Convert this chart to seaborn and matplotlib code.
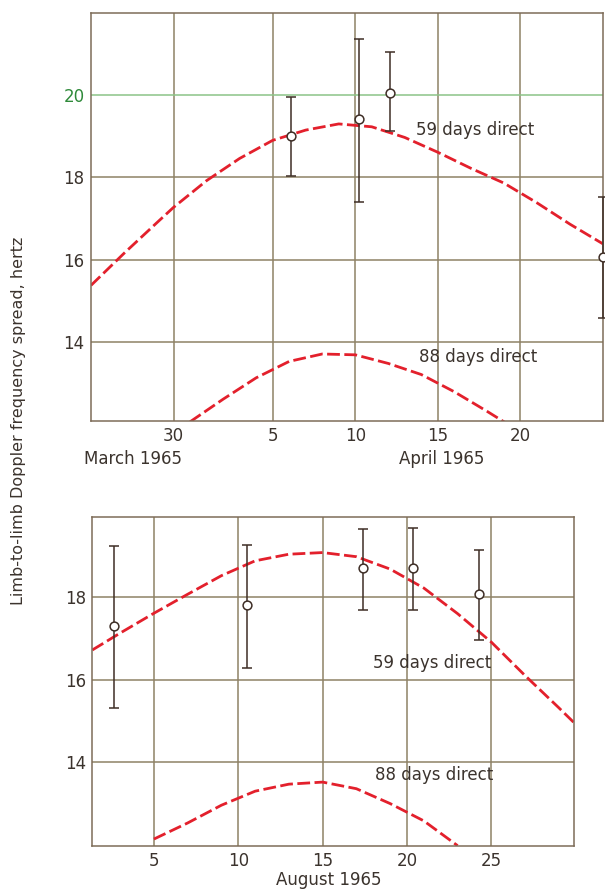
import matplotlib
matplotlib.use('Agg')
import matplotlib.pyplot as plt
import pandas as pd
import seaborn as sns

# ---- April 1965 panel (x = day counted from March 31, so March 30 -> -1) ----
apr_days_59 = [-6, -4, -2, -1, 1, 3, 5, 7, 9, 11, 13, 15, 17, 19, 21, 23, 25]
apr_vals_59 = [15.37, 16.15, 16.90, 17.27, 17.92, 18.46, 18.90, 19.15, 19.30,
               19.23, 18.97, 18.61, 18.22, 17.86, 17.38, 16.86, 16.38]
apr_days_88 = [0, 2, 4, 6, 8, 10, 12, 14, 16, 18, 19, 20]
apr_vals_88 = [12.05, 12.60, 13.12, 13.52, 13.70, 13.68, 13.47, 13.20, 12.78,
               12.30, 12.05, 11.75]
apr_obs_day = [6.1, 10.2, 12.1, 25.0]
apr_obs_val = [19.0, 19.42, 20.05, 16.07]
apr_obs_lo = [18.03, 17.41, 19.12, 14.57]
apr_obs_hi = [19.95, 21.37, 21.06, 17.52]
apr_tick_pos = [-1, 5, 10, 15, 20]
apr_tick_lab = ['30', '5', '10', '15', '20']

# ---- August 1965 panel (x = day of August) ----
aug_days_59 = [1.35, 3, 5, 7, 9, 11, 13, 15, 17, 19, 21, 23, 25, 27, 29, 29.9]
aug_vals_59 = [16.72, 17.13, 17.61, 18.07, 18.52, 18.88, 19.04, 19.08, 18.98,
               18.68, 18.22, 17.60, 16.91, 16.10, 15.32, 14.96]
aug_days_88 = [5, 7, 9, 11, 13, 15, 17, 19, 21, 23]
aug_vals_88 = [12.14, 12.53, 12.96, 13.30, 13.47, 13.52, 13.36, 13.00, 12.58, 11.98]
aug_obs_day = [2.65, 10.5, 17.4, 20.33, 24.25]
aug_obs_val = [17.31, 17.81, 18.71, 18.71, 18.08]
aug_obs_lo = [15.31, 16.28, 17.69, 17.69, 16.96]
aug_obs_hi = [19.25, 19.27, 19.65, 19.67, 19.13]
aug_tick_pos = [5, 10, 15, 20, 25]
aug_tick_lab = ['5', '10', '15', '20', '25']

sns.set_theme(style='white')
plt.rcParams['font.family'] = ['DejaVu Sans']

CURVE = '#e3202c'
GRID = '#8e8266'
TEXT = '#3b332d'
BAR = '#3e2e26'
DASH = (0, (4.6, 1.6))

fig = plt.figure(figsize=(6.05, 8.9), dpi=100)
ax1 = fig.add_axes([0.1504, 0.527, 0.8463, 0.4584])
ax2 = fig.add_axes([0.1526, 0.0498, 0.7962, 0.3697])


def draw_panel(ax, d59, v59, d88, v88, od, ov, olo, ohi, ticks, labels,
               xlim, ylim, yticks):
    ax.set_xlim(*xlim)
    ax.set_ylim(*ylim)
    for t in ticks:
        ax.axvline(t, color=GRID, lw=1.1, zorder=0)
    for t in yticks:
        c = '#8cc487' if t == 20 else GRID
        ax.axhline(t, color=c, lw=1.1, zorder=0)
    df59 = pd.DataFrame({'day': d59, 'hz': v59})
    df88 = pd.DataFrame({'day': d88, 'hz': v88})
    sns.lineplot(data=df59, x='day', y='hz', ax=ax, color=CURVE, lw=2.0,
                 linestyle=DASH, zorder=2)
    sns.lineplot(data=df88, x='day', y='hz', ax=ax, color=CURVE, lw=2.0,
                 linestyle=DASH, zorder=2)
    lo = [v - l for v, l in zip(ov, olo)]
    hi = [h - v for v, h in zip(ov, ohi)]
    ax.errorbar(od, ov, yerr=[lo, hi], fmt='none', ecolor=BAR, elinewidth=1.1,
                capsize=3.6, capthick=1.1, zorder=3, clip_on=False)
    sns.scatterplot(x=od, y=ov, ax=ax, marker='o', s=40, color='white',
                    edgecolor=BAR, linewidth=1.1, zorder=4, clip_on=False)
    ax.set_xticks(ticks)
    ax.set_xticklabels(labels)
    ax.set_yticks(yticks)
    ax.set_yticklabels([str(t) for t in yticks])
    ax.tick_params(length=0, pad=4.5, labelsize=12, labelcolor=TEXT)
    for s in ax.spines.values():
        s.set_color('#7d6c58')
        s.set_linewidth(1.1)
    ax.set_xlabel('')
    ax.set_ylabel('')


draw_panel(ax1, apr_days_59, apr_vals_59, apr_days_88, apr_vals_88,
           apr_obs_day, apr_obs_val, apr_obs_lo, apr_obs_hi,
           apr_tick_pos, apr_tick_lab, (-6, 25), (12.07, 22.0), [14, 16, 18, 20])
for lab in ax1.get_yticklabels():
    if lab.get_text() == '20':
        lab.set_color('#2f8a3a')

draw_panel(ax2, aug_days_59, aug_vals_59, aug_days_88, aug_vals_88,
           aug_obs_day, aug_obs_val, aug_obs_lo, aug_obs_hi,
           aug_tick_pos, aug_tick_lab, (1.35, 29.9), (11.98, 19.95), [14, 16, 18])

ax1.text(13.7, 19.16, '59 days direct', ha='left', va='center', fontsize=12, color=TEXT)
ax1.text(13.85, 13.63, '88 days direct', ha='left', va='center', fontsize=12, color=TEXT)
ax2.text(17.98, 16.40, '59 days direct', ha='left', va='center', fontsize=12, color=TEXT)
ax2.text(18.1, 13.68, '88 days direct', ha='left', va='center', fontsize=12, color=TEXT)

fig.text(0.22, 1 - 459 / 890, 'March 1965', ha='center', va='center', fontsize=12, color=TEXT)
fig.text(0.7306, 1 - 459 / 890, 'April 1965', ha='center', va='center', fontsize=12, color=TEXT)
fig.text(0.5438, 1 - 880 / 890, 'August 1965', ha='center', va='center', fontsize=12, color=TEXT)
fig.text(0.03, 1 - 421 / 890, 'Limb-to-limb Doppler frequency spread, hertz',
         rotation=90, ha='center', va='center', fontsize=11.5, color=TEXT)

fig.savefig('out.png', dpi=100, facecolor='white')
